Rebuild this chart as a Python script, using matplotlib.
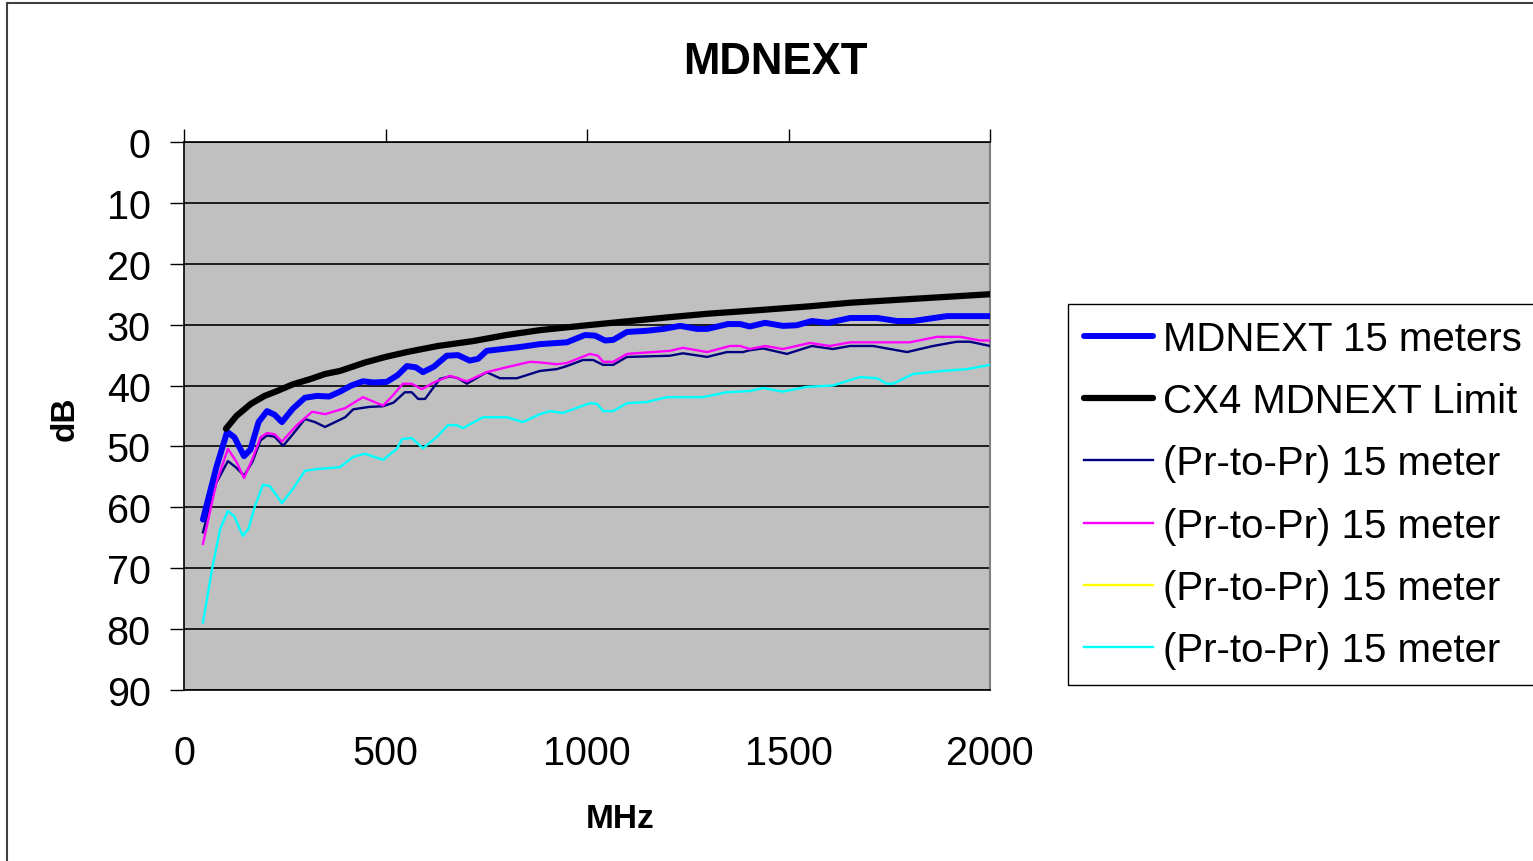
import matplotlib
matplotlib.use('Agg')
import matplotlib.pyplot as plt
from matplotlib.patches import Rectangle

plt.rcParams['font.family'] = ['Liberation Sans', 'DejaVu Sans']

# MDNEXT 15 meters (thick blue)
blue_mhz = [47, 80, 107, 125, 149, 165, 185, 206, 225, 243, 270, 300, 330, 360, 387, 415, 444, 470,
            503, 530, 553, 575, 593, 620, 652, 680, 709, 730, 751, 790, 830, 883, 950, 995, 1020, 1045,
            1065, 1099, 1149, 1190, 1231, 1273, 1298, 1350, 1380, 1404, 1442, 1486, 1520, 1558, 1598,
            1653, 1720, 1769, 1809, 1893, 2000]
blue_db = [62.0, 53.5, 47.6, 48.5, 51.6, 50.5, 46.0, 44.2, 44.8, 46.0, 43.8, 42.0, 41.7, 41.8, 41.0, 40.0,
           39.3, 39.5, 39.4, 38.3, 36.8, 37.0, 37.8, 36.9, 35.1, 35.0, 35.9, 35.6, 34.3, 34.0, 33.7, 33.2,
           32.9, 31.7, 31.8, 32.6, 32.5, 31.2, 31.0, 30.7, 30.2, 30.7, 30.7, 29.9, 29.9, 30.3, 29.7, 30.2,
           30.1, 29.4, 29.7, 28.9, 28.9, 29.4, 29.4, 28.6, 28.6]

# CX4 MDNEXT Limit (thick black)
limit_mhz = [104, 130, 166, 200, 231, 270, 315, 350, 387, 450, 500, 553, 630, 717, 800, 883, 1000,
             1107, 1200, 1300, 1429, 1550, 1653, 1800, 1900, 2000]
limit_db = [47.1, 45.0, 43.0, 41.7, 40.9, 39.8, 38.9, 38.1, 37.6, 36.2, 35.3, 34.5, 33.5, 32.7, 31.7,
            30.9, 30.1, 29.4, 28.8, 28.2, 27.6, 27.0, 26.4, 25.8, 25.4, 25.0]

# (Pr-to-Pr) 15 meter - navy
navy_mhz = [47, 80, 109, 130, 149, 170, 190, 206, 225, 246, 270, 300, 325, 350, 375, 400, 420, 460, 494,
            520, 548, 565, 581, 598, 635, 660, 680, 702, 751, 784, 826, 883, 925, 950, 990, 1015, 1040,
            1065, 1099, 1206, 1238, 1298, 1347, 1387, 1404, 1437, 1496, 1558, 1610, 1653, 1710, 1794,
            1859, 1918, 1950, 2000]
navy_db = [64.1, 56.0, 52.4, 53.5, 54.8, 52.5, 49.0, 48.2, 48.4, 49.9, 48.0, 45.5, 46.0, 46.8, 46.0, 45.2,
           43.9, 43.5, 43.4, 42.8, 41.1, 41.1, 42.2, 42.2, 38.9, 38.5, 38.8, 39.7, 37.8, 38.8, 38.8, 37.6,
           37.3, 36.8, 35.8, 35.8, 36.6, 36.6, 35.3, 35.1, 34.7, 35.3, 34.5, 34.5, 34.2, 33.9, 34.8, 33.5,
           34.0, 33.5, 33.5, 34.5, 33.5, 32.8, 32.8, 33.5]

# (Pr-to-Pr) 15 meter - magenta
magenta_mhz = [47, 80, 109, 130, 149, 170, 190, 206, 225, 243, 280, 318, 350, 400, 444, 494, 520, 543,
               565, 590, 620, 660, 702, 751, 800, 859, 883, 925, 950, 1007, 1027, 1040, 1065, 1099, 1206,
               1238, 1298, 1355, 1380, 1404, 1442, 1486, 1553, 1603, 1653, 1801, 1868, 1926, 1975, 2000]
magenta_db = [66.0, 56.0, 50.4, 52.5, 55.2, 52.0, 48.5, 47.8, 48.0, 49.2, 46.5, 44.3, 44.7, 43.7, 41.9,
              43.3, 41.5, 39.7, 39.7, 40.6, 39.5, 38.4, 39.3, 37.8, 37.0, 36.1, 36.2, 36.5, 36.3, 34.8,
              35.1, 36.1, 36.1, 34.8, 34.3, 33.8, 34.5, 33.5, 33.5, 34.0, 33.5, 34.0, 33.0, 33.5, 32.9,
              32.9, 32.0, 32.0, 32.6, 32.6]

# (Pr-to-Pr) 15 meter - yellow (not visible in the chart)
yellow_mhz = []
yellow_db = []

# (Pr-to-Pr) 15 meter - cyan
cyan_mhz = [47, 70, 90, 109, 125, 146, 160, 176, 196, 213, 243, 270, 300, 333, 387, 420, 449, 494, 528,
            541, 565, 593, 628, 655, 677, 692, 742, 801, 841, 883, 908, 940, 1007, 1025, 1040, 1065, 1099,
            1149, 1199, 1288, 1347, 1404, 1437, 1486, 1546, 1610, 1677, 1720, 1744, 1759, 1809, 1883,
            1943, 2000]
cyan_db = [78.9, 70.0, 63.5, 60.6, 61.5, 64.7, 63.5, 59.8, 56.3, 56.5, 59.3, 57.0, 54.0, 53.7, 53.4, 51.7,
           51.2, 52.2, 50.4, 48.8, 48.6, 50.3, 48.4, 46.5, 46.5, 47.0, 45.2, 45.2, 46.0, 44.7, 44.2, 44.5,
           42.9, 43.0, 44.2, 44.2, 42.9, 42.7, 41.9, 41.9, 41.1, 40.9, 40.4, 41.0, 40.2, 40.0, 38.6, 38.8,
           39.7, 39.7, 38.1, 37.6, 37.3, 36.6]

x_ticks = [0, 500, 1000, 1500, 2000]
y_ticks = [0, 10, 20, 30, 40, 50, 60, 70, 80, 90]


def plot_mdnext():
    fig = plt.figure(figsize=(15.33, 8.62), dpi=100)
    ax = fig.add_axes([184 / 1533, 1 - 691 / 862, 806 / 1533, 548 / 862])
    ax.set_facecolor('#C0C0C0')

    # chart area border
    fig.patches.append(Rectangle((7 / 1533, -0.1), 1.2, 1.1 - 4 / 862, transform=fig.transFigure,
                                 fill=False, edgecolor='#404040', linewidth=1.5))

    ax.plot(blue_mhz, blue_db, color='#0000FF', linewidth=4.3, label='MDNEXT 15 meters',
            solid_joinstyle='round', solid_capstyle='round', zorder=5)
    ax.plot(limit_mhz, limit_db, color='black', linewidth=4.5, label='CX4 MDNEXT Limit',
            solid_joinstyle='round', solid_capstyle='round', zorder=6)
    ax.plot(navy_mhz, navy_db, color='#000080', linewidth=1.7, label='(Pr-to-Pr) 15 meter', zorder=4)
    ax.plot(magenta_mhz, magenta_db, color='#FF00FF', linewidth=1.7, label='(Pr-to-Pr) 15 meter', zorder=4)
    ax.plot(yellow_mhz, yellow_db, color='#FFFF00', linewidth=1.7, label='(Pr-to-Pr) 15 meter', zorder=4)
    ax.plot(cyan_mhz, cyan_db, color='#00FFFF', linewidth=1.7, label='(Pr-to-Pr) 15 meter', zorder=4)

    ax.set_xlim(0, 2000)
    ax.set_ylim(90, 0)
    ax.set_xticks(x_ticks)
    ax.set_yticks(y_ticks)
    ax.yaxis.grid(True, color='black', linewidth=1.2)
    ax.set_axisbelow(True)

    ax.tick_params(axis='x', top=True, bottom=False, labeltop=False, labelbottom=True,
                   direction='out', length=9.5, width=1, pad=22.5, labelsize=28.5)
    ax.tick_params(axis='y', direction='out', length=10, width=1, pad=14, labelsize=28.5)

    for side in ['left', 'top', 'bottom']:
        ax.spines[side].set_color('black')
        ax.spines[side].set_linewidth(1.2)
    ax.spines['right'].set_color('#808080')
    ax.spines['right'].set_linewidth(1.5)

    fig.text(775 / 1533, 1 - 62 / 862, 'MDNEXT', ha='center', va='center',
             fontsize=31.5, fontweight='bold')
    fig.text(620 / 1533, 1 - 820 / 862, 'MHz', ha='center', va='center',
             fontsize=24, fontweight='bold')
    fig.text(65 / 1533, 1 - 418.5 / 862, 'dB', ha='center', va='center', rotation=90,
             fontsize=24, fontweight='bold')

    leg = fig.legend(loc='upper left', bbox_to_anchor=(1068 / 1533, 1 - 305 / 862),
                     bbox_transform=fig.transFigure, borderaxespad=0, fontsize=29,
                     frameon=True, fancybox=False, edgecolor='black', framealpha=1,
                     borderpad=0.4, labelspacing=0.6, handlelength=1.7, handletextpad=0.25)
    leg.get_frame().set_linewidth(1.0)

    fig.savefig('out.png', dpi=100)


if __name__ == '__main__':
    plot_mdnext()
